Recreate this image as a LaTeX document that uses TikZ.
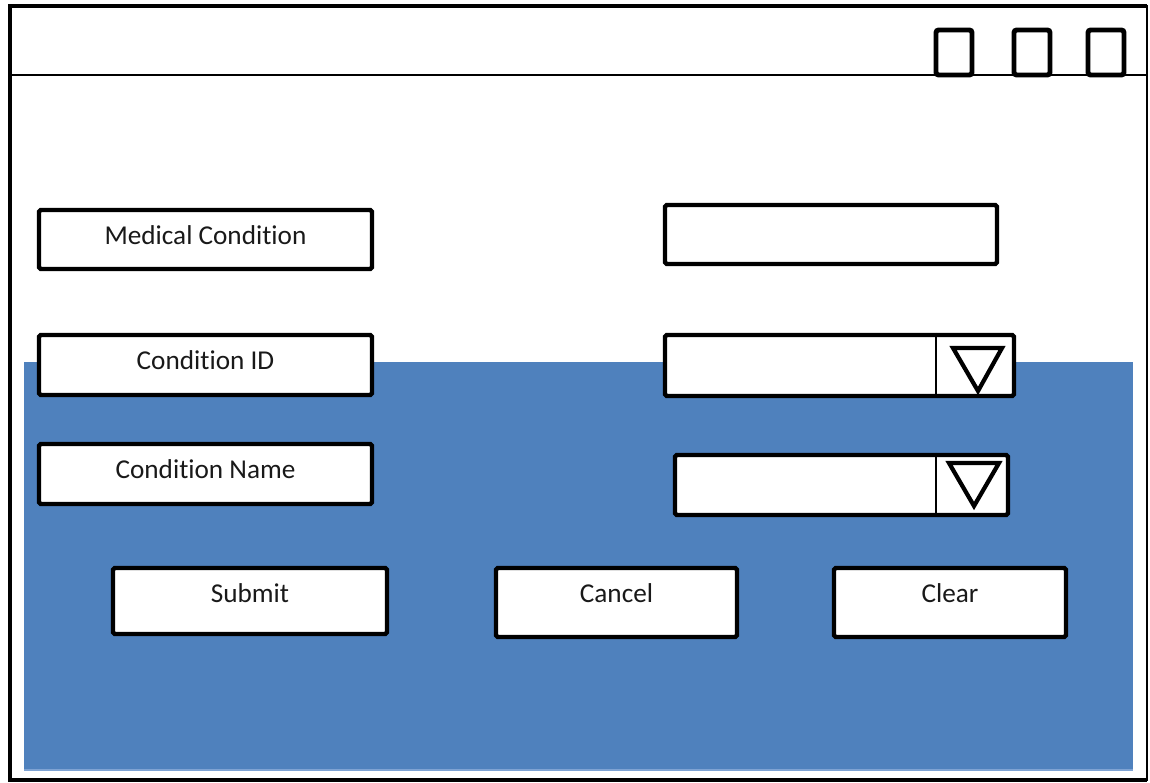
\documentclass[tikz,border=0pt]{standalone}
\usepackage{fontspec}
\setmainfont{Carlito}[Ligatures=NoCommon]
\usepackage{xcolor}
\definecolor{formblue}{HTML}{4F81BD}
\definecolor{formedge}{HTML}{7FA3D3}

\begin{document}
\begin{tikzpicture}[x=0.02cm,y=-0.02cm]
					\tikzstyle{box} = [rectangle,draw=black,fill=white,line width=2.5pt,rounded corners=1pt,inner sep=0pt]
					\tikzstyle{winbtn} = [rectangle,draw=black,line width=2.8pt,rounded corners=1.5pt,inner sep=0pt,minimum width=0.72cm,minimum height=0.9cm]
					\tikzstyle{lbl} = [font=\fontsize{15.5}{18}\selectfont,text=black!90,inner sep=0pt]
					\tikzstyle{arrowtri} = [draw=black,line width=2.4pt,line join=miter]
					\useasboundingbox (0,0) rectangle (1150,783);
					% window frame and title bar
					\fill[white] (0,0) rectangle (1150,783);
					\draw[line width=2.4pt] (1147,6) -- (10,6) -- (10,780) -- (1147,780);
					\draw[line width=0.9pt] (1147,5) -- (1147,781);
					\draw[line width=0.8pt] (10,75) -- (1147,75);
					\node[winbtn] (btnmin) at (954,52.5) {};
					\node[winbtn] (btnmax) at (1032,52.5) {};
					\node[winbtn] (btnclose) at (1106,52.5) {};
					% blue panel
					\fill[formblue] (24,362) rectangle (1133,770);
					\draw[formedge,line width=0.8pt] (24,770) -- (1133,770);
					% labels
					\node[box,minimum width=6.66cm,minimum height=1.18cm] (medcond) at (205.5,239.5) {};
					\node[box,minimum width=6.66cm,minimum height=1.2cm] (condid) at (205.5,365) {};
					\node[box,minimum width=6.66cm,minimum height=1.2cm] (condname) at (205.5,474) {};
					\node[lbl] (tmedcond) at ([yshift=0.09cm]medcond.center) {Medical Condition};
					\node[lbl] (tcondid) at ([yshift=0.1cm]condid.center) {Condition ID};
					\node[lbl] (tcondname) at ([yshift=0.1cm]condname.center) {Condition Name};
					% fields
					\node[box,minimum width=6.64cm,minimum height=1.18cm] (medfield) at (831,234.5) {};
					\node[box,minimum width=6.98cm,minimum height=1.22cm] (idfield) at (839.5,365.5) {};
					\node[box,minimum width=6.66cm,minimum height=1.2cm] (namefield) at (841.5,485) {};
					\draw[line width=0.8pt] (936,0 |- idfield.north) -- (936,0 |- idfield.south);
					\draw[line width=0.8pt] (936,0 |- namefield.north) -- (936,0 |- namefield.south);
					\draw[arrowtri] (953,348) -- (1002,348) -- (978,391) -- cycle;
					\draw[arrowtri] (949,463) -- (999,463) -- (974,506) -- cycle;
					% buttons
					\node[box,minimum width=5.48cm,minimum height=1.32cm] (submit) at (250,601) {};
					\node[box,minimum width=4.82cm,minimum height=1.38cm] (cancel) at (616.5,602.5) {};
					\node[box,minimum width=4.64cm,minimum height=1.38cm] (clear) at (950,602.5) {};
					\node[lbl] (tsubmit) at ([yshift=0.16cm]submit.center) {Submit};
					\node[lbl] (tcancel) at ([yshift=0.19cm]cancel.center) {Cancel};
					\node[lbl] (tclear) at ([yshift=0.19cm]clear.center) {Clear};
\end{tikzpicture}
\end{document}
